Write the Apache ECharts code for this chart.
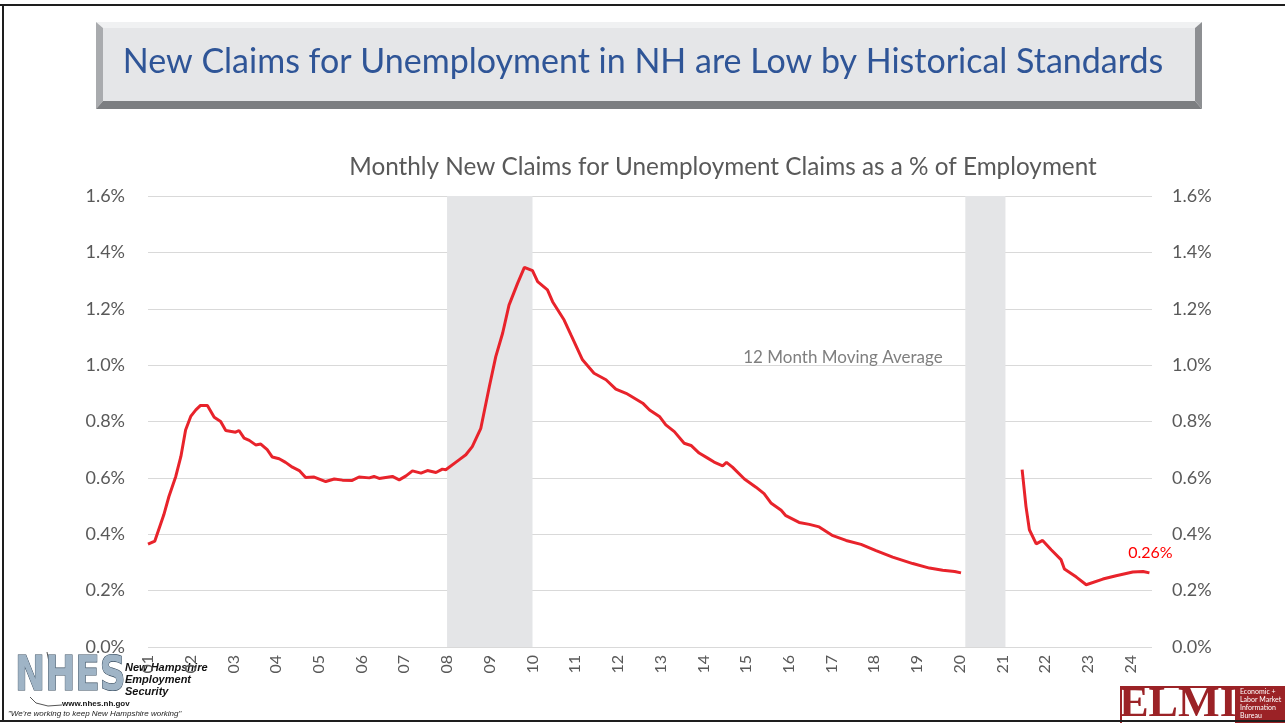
<!DOCTYPE html>
<html>
<head>
<meta charset="UTF-8">
<title>NH New Claims</title>
<script src="https://cdn.jsdelivr.net/npm/echarts@6/dist/echarts.min.js"></script>
<style>
	html,body{margin:0;padding:0;background:#fff;}
	#chart{width:1285px;height:723px;}
</style>
</head>
<body>
<div id="chart"></div>
<script type="text/javascript">
// monthly 12-month moving average, new claims as % of employment
var yearsA = [2001.0,2001.16,2001.37,2001.49,2001.65,2001.77,2001.88,2002.0,2002.12,2002.23,2002.39,2002.55,2002.7,2002.82,
	2003.05,2003.13,2003.25,2003.37,2003.52,2003.64,2003.79,2003.91,2004.07,2004.22,2004.38,2004.54,2004.69,2004.89,
	2005.16,2005.36,2005.55,2005.78,2005.94,2006.18,2006.29,2006.41,2006.72,2006.88,2007.04,2007.19,2007.39,2007.54,
	2007.74,2007.89,2007.97,2008.28,2008.44,2008.59,2008.79,2008.99,2009.14,2009.3,2009.45,2009.65,2009.81,2010.0,
	2010.12,2010.35,2010.47,2010.74,2010.9,2011.17,2011.44,2011.72,2011.95,2012.19,2012.26,2012.58,2012.74,2012.97,
	2013.12,2013.32,2013.55,2013.71,2013.9,2014.1,2014.25,2014.45,2014.54,2014.68,2014.96,2015.23,2015.42,2015.58,
	2015.82,2015.93,2016.24,2016.48,2016.71,2017.03,2017.34,2017.69,2018.04,2018.43,2018.9,2019.29,2019.6,2019.88,2020.03];
var claimsA = [0.365,0.376,0.469,0.534,0.605,0.676,0.770,0.818,0.841,0.857,0.857,0.815,0.800,0.768,
	0.762,0.768,0.741,0.733,0.717,0.720,0.700,0.674,0.668,0.655,0.638,0.626,0.601,0.603,
	0.587,0.596,0.592,0.591,0.603,0.600,0.605,0.598,0.605,0.593,0.607,0.625,0.617,0.626,
	0.619,0.631,0.629,0.664,0.682,0.711,0.776,0.924,1.030,1.113,1.213,1.290,1.347,1.335,
	1.296,1.267,1.225,1.160,1.107,1.019,0.971,0.948,0.915,0.900,0.894,0.865,0.841,0.818,
	0.788,0.764,0.723,0.715,0.688,0.670,0.656,0.643,0.655,0.638,0.596,0.567,0.544,0.511,
	0.485,0.466,0.442,0.435,0.426,0.395,0.378,0.364,0.342,0.319,0.296,0.280,0.272,0.268,0.263];
var yearsB = [2021.46,2021.55,2021.63,2021.79,2021.94,2022.14,2022.37,2022.45,2022.73,2022.96,2023.35,2023.66,2024.05,2024.29,2024.44];
var claimsB = [0.629,0.499,0.416,0.366,0.378,0.345,0.310,0.277,0.248,0.221,0.241,0.253,0.266,0.268,0.263];
var recessions = [[2008.0, 2010.0], [2020.13, 2021.07]];
var lastLabel = '0.26%';

var chartTitle = 'New Claims for Unemployment in NH are Low by Historical Standards';
var subTitle = 'Monthly New Claims for Unemployment Claims as a % of Employment';
var noteText = '12 Month Moving Average';

function pairs(xs, ys){
	var out = [];
	for (var i = 0; i < xs.length; i++) out.push([xs[i], ys[i]]);
	return out;
}

var FONT = 'Lato, "Open Sans", sans-serif';
var lineColor = '#e8232b';

var myChart = echarts.init(document.getElementById('chart'));
var option = {
	backgroundColor:'#ffffff',
	animation:false,
	textStyle:{fontFamily:FONT},
	grid:{left:148, right:133, top:196, bottom:76},
	xAxis:{
		type:'value',
		min:2001,
		max:2024.5,
		interval:1,
		axisLine:{show:false},
		axisTick:{show:false},
		splitLine:{show:false},
		axisLabel:{
			rotate:90,
			margin:8,
			color:'#595959',
			fontSize:16,
			fontFamily:FONT,
			showMaxLabel:false,
			formatter:function(v){
				return Math.round(v) === v ? String(v).slice(2) : '';
			}
		}
	},
	yAxis:[{
		type:'value',
		min:0, max:1.6, interval:0.2,
		position:'left',
		axisLine:{show:false},
		axisTick:{show:false},
		axisLabel:{color:'#595959', fontSize:18, margin:23, fontFamily:FONT,
			formatter:function(v){ return v.toFixed(1) + '%'; }},
		splitLine:{lineStyle:{color:'#d9d9d9', width:1}}
	},{
		type:'value',
		min:0, max:1.6, interval:0.2,
		position:'right',
		axisLine:{show:false},
		axisTick:{show:false},
		axisLabel:{color:'#595959', fontSize:18, margin:20, fontFamily:FONT,
			formatter:function(v){ return v.toFixed(1) + '%'; }},
		splitLine:{show:false}
	}],
	series:[{
		type:'line',
		data:pairs(yearsA, claimsA),
		showSymbol:false,
		lineStyle:{color:lineColor, width:3},
		z:3,
		markArea:{
			silent:true,
			itemStyle:{color:'#e4e5e7'},
			data:recessions.map(function(r){ return [{xAxis:r[0]}, {xAxis:r[1]}]; })
		}
	},{
		type:'line',
		data:pairs(yearsB, claimsB),
		showSymbol:false,
		lineStyle:{color:lineColor, width:3},
		z:3,
		endLabel:{
			show:true,
			formatter:lastLabel,
			color:'#ff0000',
			fontSize:16,
			fontFamily:FONT,
			align:'center',
			offset:[-7,-20]
		}
	}],
	graphic:[
		// title box with bevel
		{type:'polygon', shape:{points:[[96,22],[1202,22],[1195,28],[103,28]]}, style:{fill:'#f0f1f2'}},
		{type:'polygon', shape:{points:[[96,22],[103,28],[103,101],[96,109]]}, style:{fill:'#a9abae'}},
		{type:'polygon', shape:{points:[[1202,22],[1202,109],[1195,101],[1195,28]]}, style:{fill:'#8d8f92'}},
		{type:'polygon', shape:{points:[[96,109],[103,101],[1195,101],[1202,109]]}, style:{fill:'#7c7e81'}},
		{type:'rect', shape:{x:103, y:28, width:1092, height:73}, style:{fill:'#e5e6e8'}},
		{type:'text', x:643, y:62, style:{text:chartTitle, fill:'#2f5597', font:'34px ' + FONT, textAlign:'center', textVerticalAlign:'middle'}},
		{type:'text', x:723, y:167, style:{text:subTitle, fill:'#595959', font:'24.3px ' + FONT, textAlign:'center', textVerticalAlign:'middle'}},
		{type:'text', x:843, y:358, z:10, style:{text:noteText, fill:'#7f7f7f', font:'17px ' + FONT, textAlign:'center', textVerticalAlign:'middle'}},
		// NHES logo
		{type:'group', z:20, children:[
			{type:'rect', shape:{x:4, y:658, width:196, height:62}, style:{fill:'#ffffff'}},
			{type:'polyline', shape:{points:[[47,652],[49,662],[50,668]]}, style:{stroke:'#555', lineWidth:1, fill:null}},
			{type:'polyline', shape:{points:[[30,697],[36,703],[48,706],[62,705]]}, style:{stroke:'#555', lineWidth:1, fill:null}},
			{type:'text', x:15, y:701, scaleX:0.72, scaleY:0.95, style:{text:'NHES', font:'bold 50px "DejaVu Sans", sans-serif',
				textVerticalAlign:'bottom', fill:'#9fb4c6', stroke:'#34495c', lineWidth:1.2}},
			{type:'text', x:125, y:668, style:{text:'New Hampshire', font:'italic bold 11px "Liberation Sans", Arial, sans-serif', fill:'#111', textVerticalAlign:'middle'}},
			{type:'text', x:125, y:680, style:{text:'Employment', font:'italic bold 11px "Liberation Sans", Arial, sans-serif', fill:'#111', textVerticalAlign:'middle'}},
			{type:'text', x:125, y:692, style:{text:'Security', font:'italic bold 11px "Liberation Sans", Arial, sans-serif', fill:'#111', textVerticalAlign:'middle'}},
			{type:'text', x:62, y:704, style:{text:'www.nhes.nh.gov', font:'bold 8px "Liberation Sans", Arial, sans-serif', fill:'#111', textVerticalAlign:'middle'}},
			{type:'text', x:8, y:714, style:{text:'"We\'re working to keep New Hampshire working"', font:'italic 8px "Liberation Sans", Arial, sans-serif', fill:'#222', textVerticalAlign:'middle'}}
		]},
		// ELMI logo
		{type:'group', z:20, children:[
			{type:'rect', shape:{x:1121, y:687, width:115, height:40}, style:{fill:'#ffffff', stroke:'#9b2226', lineWidth:2}},
			{type:'text', x:1178, y:726, scaleX:1.05, style:{text:'ELMI', font:'bold 42px "Liberation Serif", "DejaVu Serif", serif', fill:'#9b2226', textAlign:'center', textVerticalAlign:'bottom'}},
			{type:'rect', shape:{x:1237, y:686, width:48, height:37}, style:{fill:'#9b2226'}},
			{type:'text', x:1240, y:692, style:{text:'Economic +', font:'7px ' + FONT, fill:'#fff', textVerticalAlign:'middle'}},
			{type:'text', x:1240, y:700, style:{text:'Labor Market', font:'7px ' + FONT, fill:'#fff', textVerticalAlign:'middle'}},
			{type:'text', x:1240, y:708, style:{text:'Information', font:'7px ' + FONT, fill:'#fff', textVerticalAlign:'middle'}},
			{type:'text', x:1240, y:716, style:{text:'Bureau', font:'7px ' + FONT, fill:'#fff', textVerticalAlign:'middle'}}
		]},
		// slide frame
		{type:'group', z:30, children:[
			{type:'line', shape:{x1:0, y1:5, x2:1285, y2:5}, style:{stroke:'#1e1e1e', lineWidth:2}},
			{type:'line', shape:{x1:3, y1:5, x2:3, y2:722}, style:{stroke:'#1e1e1e', lineWidth:2}},
			{type:'line', shape:{x1:0, y1:721, x2:1285, y2:721}, style:{stroke:'#1e1e1e', lineWidth:2}}
		]}
	]
};
myChart.setOption(option);
</script>
</body>
</html>
